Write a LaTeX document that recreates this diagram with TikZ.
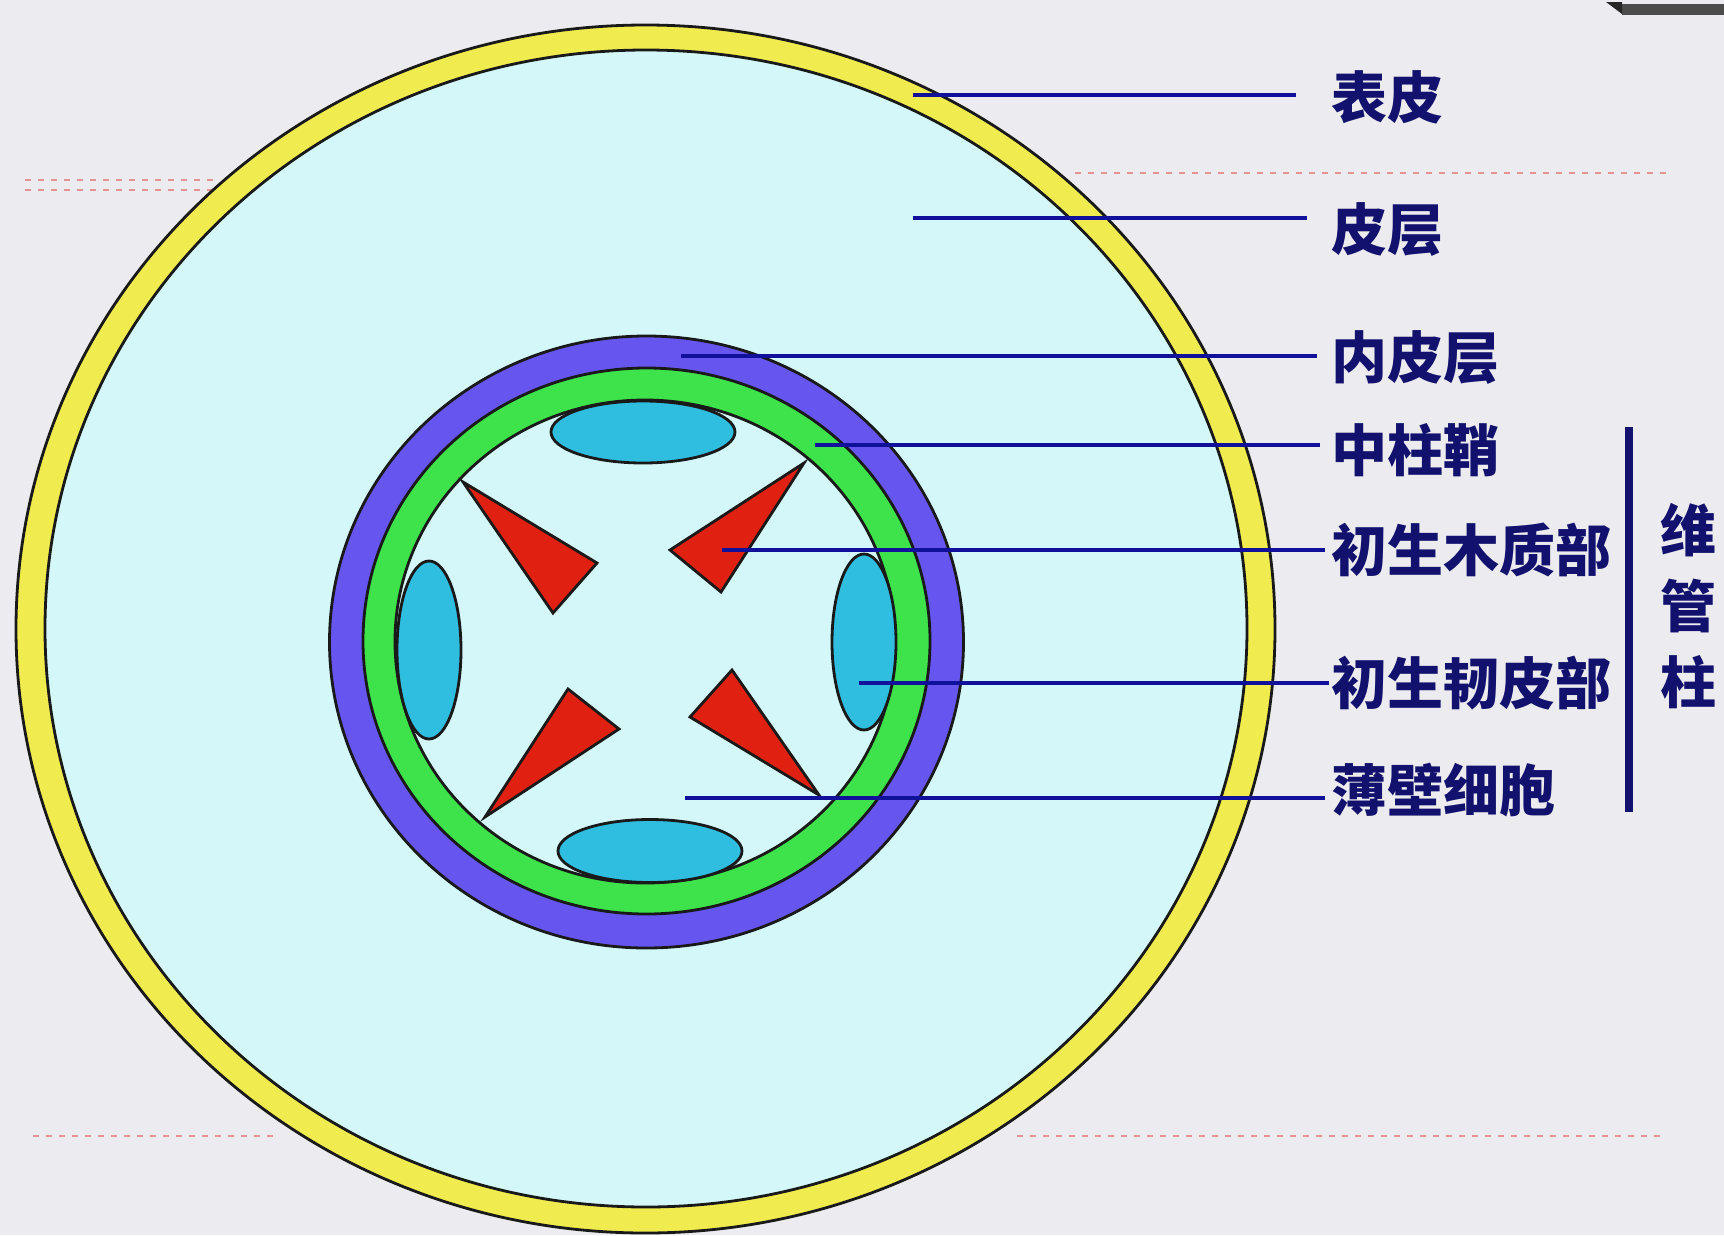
\documentclass[tikz,border=0pt]{standalone}
\usepackage{fontspec}
\newfontfamily\cjk{Noto Sans CJK SC}
\definecolor{bgpaper}{RGB}{236,236,240}
\definecolor{cortexfill}{RGB}{212,248,250}
\definecolor{epiyellow}{RGB}{240,236,80}
\definecolor{endopurple}{RGB}{102,85,238}
\definecolor{pericgreen}{RGB}{62,226,74}
\definecolor{phloemcyan}{RGB}{47,190,224}
\definecolor{xylemred}{RGB}{224,32,16}
\definecolor{leaderblue}{RGB}{16,16,154}
\definecolor{labelnavy}{RGB}{18,18,110}
\definecolor{scanred}{RGB}{225,60,60}
\tikzset{
  tissue/.style={draw=black!90, line width=2.8pt},
  leader/.style={draw=leaderblue, line width=4.5pt},
  label/.style={anchor=base west, inner sep=0pt, text=labelnavy,
                font=\cjk\bfseries\fontsize{56pt}{60pt}\selectfont},
  vlabel/.style={anchor=base, inner sep=0pt, text=labelnavy,
                font=\cjk\bfseries\fontsize{56pt}{60pt}\selectfont},
  scanmark/.style={draw=scanred, line width=1.6pt, dash pattern=on 6pt off 7pt, opacity=0.5},
}
\begin{document}
\begin{tikzpicture}[x=1pt,y=-1pt]
  % canvas
  \useasboundingbox (0,0) rectangle (1724,1235);
  \fill[bgpaper] (0,0) rectangle (1724,1235);

  % faint red marks along the page
  \draw[scanmark] (25,180) -- (215,180);
  \draw[scanmark] (25,190) -- (215,190);
  \draw[scanmark] (1075,173) -- (1672,173);
  \draw[scanmark] (33,1136) -- (275,1136);
  \draw[scanmark] (1017,1136) -- (1660,1136);

  % grey strip in the top right corner
  \fill[black!70] (1622,4) rectangle (1724,15);
  \fill[black!85] (1606,2) -- (1622,2) -- (1622,14) -- cycle;

  % epidermis and cortex
  \path[tissue, fill=epiyellow] (645.5,629) ellipse [x radius=629.5pt, y radius=604pt];
  \path[tissue, fill=cortexfill] (646,628.5) ellipse [x radius=601pt, y radius=578.5pt];

  % endodermis, pericycle and the stele interior
  \path[tissue, fill=endopurple] (646.5,642) ellipse [x radius=317pt, y radius=306pt];
  \path[tissue, fill=pericgreen] (646.5,641) ellipse [x radius=283.5pt, y radius=273pt];
  \path[tissue, fill=cortexfill] (645,641.5) ellipse [x radius=250pt, y radius=241.5pt];

  % primary phloem strands
  \path[tissue, fill=phloemcyan] (643,432) ellipse [x radius=92pt, y radius=31pt];
  \path[tissue, fill=phloemcyan] (650,851) ellipse [x radius=92pt, y radius=31.5pt];
  \path[tissue, fill=phloemcyan] (429,650) ellipse [x radius=32pt, y radius=89pt];
  \path[tissue, fill=phloemcyan] (864,642) ellipse [x radius=32pt, y radius=88pt];

  % primary xylem arms
  \path[tissue, fill=xylemred, line join=miter] (463,482) -- (597,563) -- (553,613) -- cycle;
  \path[tissue, fill=xylemred, line join=miter] (804,463) -- (670,550) -- (721,592) -- cycle;
  \path[tissue, fill=xylemred, line join=miter] (485,817) -- (568,689) -- (619,729) -- cycle;
  \path[tissue, fill=xylemred, line join=miter] (819,795) -- (732,670) -- (690,717) -- cycle;

  % labels
  \node[label] (tEpi)    at (1331,118) {表皮};
  \node[label] (tCortex) at (1331,250) {皮层};
  \node[label] (tEndo)   at (1331,378) {内皮层};
  \node[label] (tPeri)   at (1331,471) {中柱鞘};
  \node[label] (tXylem)  at (1331,571) {初生木质部};
  \node[label] (tPhloem) at (1331,704) {初生韧皮部};
  \node[label] (tParen)  at (1331,811) {薄壁细胞};

  \node[vlabel] (tV1) at (1688,551) {维};
  \node[vlabel] (tV2) at (1688,627) {管};
  \node[vlabel] (tV3) at (1688,703) {柱};

  % leader lines
  \coordinate (sEpi)    at (913,95);   \coordinate (eEpi)    at (1296,95);
  \coordinate (sCortex) at (913,218);  \coordinate (eCortex) at (1307,218);
  \coordinate (sEndo)   at (681,356);  \coordinate (eEndo)   at (1317,356);
  \coordinate (sPeri)   at (815,445);  \coordinate (ePeri)   at (1320,445);
  \coordinate (sXylem)  at (722,550);  \coordinate (eXylem)  at (1325,550);
  \coordinate (sPhloem) at (859,683);  \coordinate (ePhloem) at (1329,683);
  \coordinate (sParen)  at (685,798);  \coordinate (eParen)  at (1325,798);
  \draw[leader] (sEpi) -- (eEpi);
  \draw[leader] (sCortex) -- (eCortex);
  \draw[leader] (sEndo) -- (eEndo);
  \draw[leader] (sPeri) -- (ePeri);
  \draw[leader] (sXylem) -- (eXylem);
  \draw[leader] (sPhloem) -- (ePhloem);
  \draw[leader] (sParen) -- (eParen);

  % bracket grouping the vascular cylinder
  \coordinate (bTop) at (1629,427);
  \coordinate (bBot) at (1629,812);
  \draw[draw=labelnavy, line width=8pt] (bTop) -- (bBot);
\end{tikzpicture}
\end{document}
